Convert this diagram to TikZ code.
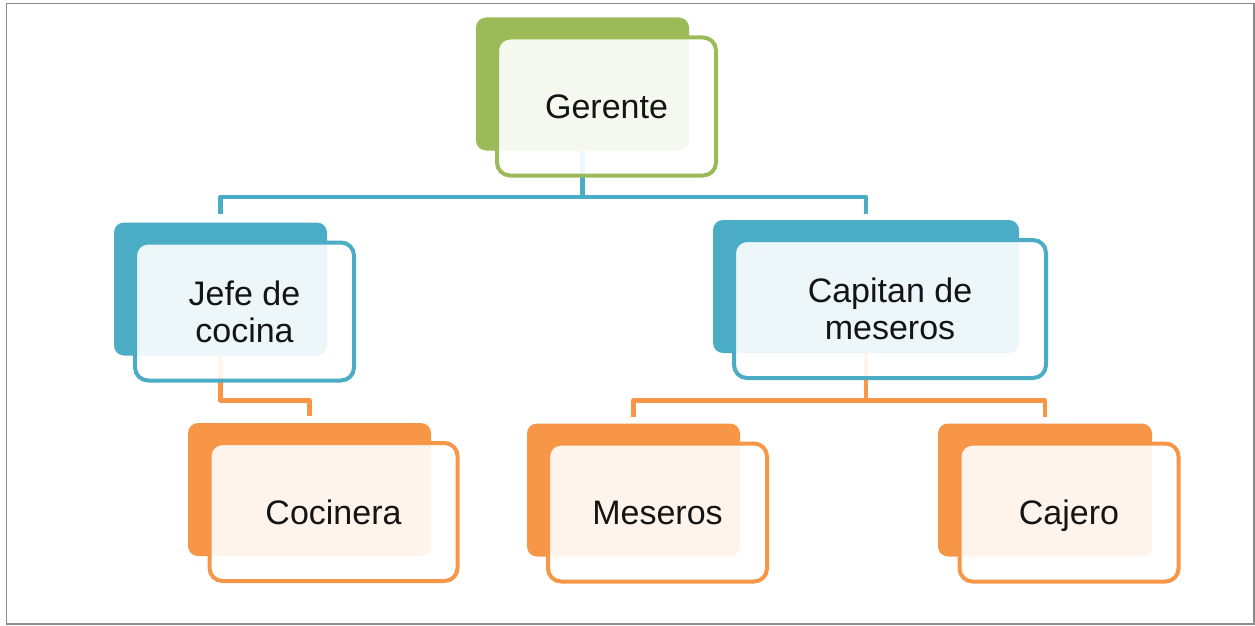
\documentclass[tikz,border=0pt]{standalone}
\usepackage{fontspec}
\setmainfont{Liberation Sans}
\definecolor{cgreen}{HTML}{9BBB59}
\definecolor{cblue}{HTML}{4BACC6}
\definecolor{corange}{HTML}{F79646}
\definecolor{cframe}{HTML}{8A8A8A}
\tikzset{
  backbox/.style={rectangle, rounded corners=10pt, fill=#1, draw=none, inner sep=0pt, minimum height=133pt},
  frontbox/.style={rectangle, rounded corners=13pt, draw=#1, line width=4pt, fill=white, fill opacity=0.9, text opacity=1,
     inner sep=0pt, minimum height=138pt, align=center, font=\fontsize{34}{37}\selectfont, text=black!92, text depth=0pt},
  link/.style={line width=4.5pt, draw=#1, line join=round},
}
\begin{document}
\begin{tikzpicture}[x=1pt,y=-1pt]
\useasboundingbox (0,0) rectangle (1255,626);
\draw[cframe, line width=1.6pt] (6.5,3.5) rectangle (1254,624);
% back boxes
\node[backbox=cgreen, minimum width=213pt] (gb) at (582.5,84) {};
\node[backbox=cblue, minimum width=213pt] (jb) at (220.5,289) {};
\node[backbox=cblue, minimum width=306pt] (cb) at (866,286.5) {};
\node[backbox=corange, minimum width=243pt] (kb) at (309.5,489.5) {};
\node[backbox=corange, minimum width=213pt] (mb) at (633.5,490) {};
\node[backbox=corange, minimum width=214pt] (xb) at (1045,490) {};
% connectors
\coordinate (h1) at (0,197);
\coordinate (h2) at (0,400.5);
\draw[link=cblue] (gb.south) -- (gb.south |- h1) -| ([yshift=8pt]jb.north);
\draw[link=cblue] (gb.south |- h1) -| ([yshift=6pt]cb.north);
\draw[link=corange] (jb.south) -- (jb.south |- h2) -| ([yshift=7pt]kb.north);
\draw[link=corange] (cb.south) -- (cb.south |- h2) -| ([yshift=6pt]mb.north);
\draw[link=corange] (cb.south |- h2) -| ([yshift=6pt]xb.north);
% front boxes
\node[frontbox=cgreen, minimum width=219pt] (g) at ([shift={(24,22.5)}]gb.center) {Gerente};
\node[frontbox=cblue, minimum width=219pt] (j) at ([shift={(24,22.5)}]jb.center) {Jefe de\\cocina};
\node[frontbox=cblue, minimum width=312pt] (c) at ([shift={(24,22.5)}]cb.center) {Capitan de\\meseros};
\node[frontbox=corange, minimum width=248pt] (k) at ([shift={(24,22.5)}]kb.center) {Cocinera};
\node[frontbox=corange, minimum width=219pt] (m) at ([shift={(24,22.5)}]mb.center) {Meseros};
\node[frontbox=corange, minimum width=219pt] (x) at ([shift={(24,22.5)}]xb.center) {Cajero};
\end{tikzpicture}
\end{document}
